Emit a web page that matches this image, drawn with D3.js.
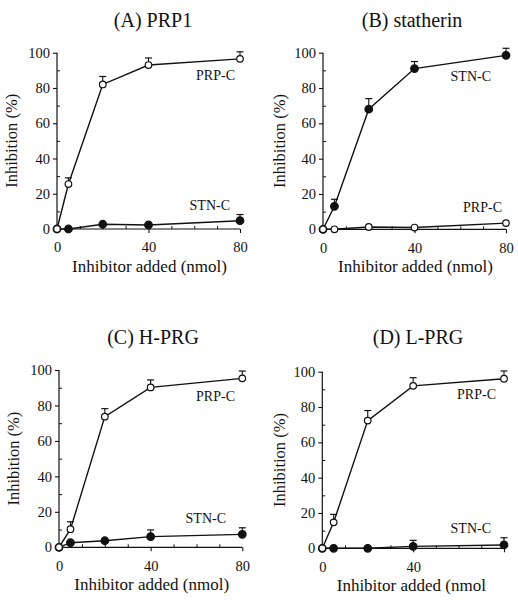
<!DOCTYPE html>
<html>
<head>
<meta charset="utf-8">
<script src="https://cdn.jsdelivr.net/npm/d3@7"></script>
<style>
  html, body { margin: 0; padding: 0; background: #fff; }
  svg { display: block; }
  svg text { font-family: "Liberation Serif", "Times New Roman", "DejaVu Serif", serif !important; fill: #111; }
</style>
</head>
<body>
<svg id="chart" width="518" height="600"></svg>
<script>
// ---------------- DATA ----------------
const xValues = [0, 5, 20, 40, 80];
const panelTitles = ["(A) PRP1", "(B) statherin", "(C) H-PRG", "(D) L-PRG"];
const seriesNames = ["PRP-C", "STN-C"];
const xTickValues = [0, 40, 80];
const xTickLabelsFull = ["0", "40", "80"];
const xTickLabelsD = ["0", "40", ""];
const yTickValues = [0, 20, 40, 60, 80, 100];
const yTickLabels = ["0", "20", "40", "60", "80", "100"];
const xAxisTitle = "Inhibitor added (nmol)";
const xAxisTitleD = "Inhibitor added (nmol";
const yAxisTitle = "Inhibition (%)";

// Panel A: PRP1
const prpA = [0, 25.5, 82, 93, 96.5];
const prpAErr = [0, 3.5, 4.5, 4, 4];
const stnA = [0, 0, 2.7, 2.3, 4.7];
const stnAErr = [0, 0, 0, 0, 3.5];
// Panel B: statherin
const prpB = [0, 0, 1.3, 1, 3.5];
const prpBErr = [0, 0, 0, 0, 0];
const stnB = [0, 13, 68, 91, 98.5];
const stnBErr = [0, 4, 6, 4, 4];
// Panel C: H-PRG
const prpC = [0, 10.2, 73.7, 90.2, 95.3];
const prpCErr = [0, 4.2, 4.5, 4.2, 4.1];
const stnC = [0, 2.6, 3.7, 6, 7.3];
const stnCErr = [0, 0, 0, 3.8, 3.7];
// Panel D: L-PRG
const prpD = [0, 14.7, 72.3, 92, 96];
const prpDErr = [0, 4.5, 5.7, 4.6, 4.4];
const stnD = [0, 0, 0, 1.1, 1.9];
const stnDErr = [0, 0, 0, 3.4, 4.1];

// ---------------- LAYOUT ----------------
const SERIF = '"Liberation Serif", "Times New Roman", "DejaVu Serif", serif';
const panels = [
  { title: panelTitles[0], prp: prpA, prpErr: prpAErr, stn: stnA, stnErr: stnAErr,
    x0: 57, x1: 240, y0: 229, y1: 52.7, titleX: 153, titleY: 27,
    prpLabel: [235, 80], stnLabel: [230, 210], xTitle: xAxisTitle, xLabels: xTickLabelsFull, yTitleX: 17 },
  { title: panelTitles[1], prp: prpB, prpErr: prpBErr, stn: stnB, stnErr: stnBErr,
    x0: 323, x1: 506, y0: 229.3, y1: 52.7, titleX: 412, titleY: 27,
    stnLabel: [491, 81], prpLabel: [502, 212], xTitle: xAxisTitle, xLabels: xTickLabelsFull, yTitleX: 285 },
  { title: panelTitles[2], prp: prpC, prpErr: prpCErr, stn: stnC, stnErr: stnCErr,
    x0: 59, x1: 242.3, y0: 547.3, y1: 370, titleX: 153, titleY: 344,
    prpLabel: [235, 401], stnLabel: [226, 523], xTitle: xAxisTitle, xLabels: xTickLabelsFull, yTitleX: 19 },
  { title: panelTitles[3], prp: prpD, prpErr: prpDErr, stn: stnD, stnErr: stnDErr,
    x0: 322.3, x1: 504, y0: 548.3, y1: 371.7, titleX: 418, titleY: 344,
    prpLabel: [496, 399], stnLabel: [491, 533], xTitle: xAxisTitleD, xLabels: xTickLabelsD, yTitleX: 285, truncated: true }
];

const svg = d3.select("#chart");

panels.forEach(p => {
  const x = d3.scaleLinear().domain([0, 80]).range([p.x0, p.x1]);
  const y = d3.scaleLinear().domain([0, 100]).range([p.y0, p.y1]);
  const g = svg.append("g");

  g.append("text").attr("x", p.titleX).attr("y", p.titleY)
    .attr("text-anchor", "middle").style("font-size", "20px").text(p.title);

  const yAxis = d3.axisLeft(y).tickValues(yTickValues)
    .tickFormat((d, i) => yTickLabels[i]).tickSize(4).tickPadding(3);
  const ya = g.append("g").attr("transform", `translate(${p.x0},0)`).call(yAxis)
    .attr("font-family", SERIF).attr("font-size", null);
  ya.select(".domain").attr("d", `M0,${p.y0}V${p.y1}`).attr("stroke", "#111").attr("stroke-width", 1.2);
  ya.selectAll(".tick line").attr("stroke", "#111").attr("stroke-width", 1.1);
  ya.selectAll(".tick text").style("font-size", "14.5px").attr("fill", "#111");
  const yMinor = d3.axisRight(y).tickValues([10, 30, 50, 70, 90]).tickFormat("").tickSize(3);
  const ym = g.append("g").attr("transform", `translate(${p.x0},0)`).call(yMinor);
  ym.select(".domain").remove();
  ym.selectAll(".tick line").attr("stroke", "#111").attr("stroke-width", 1);

  const xAxis = d3.axisBottom(x).tickValues(xTickValues)
    .tickFormat((d, i) => p.xLabels[i]).tickSize(4).tickPadding(9);
  const xa = g.append("g").attr("transform", `translate(0,${p.y0})`).call(xAxis)
    .attr("font-family", SERIF).attr("font-size", null);
  xa.select(".domain").attr("d", `M${p.x0},0H${p.x1}`).attr("stroke", "#111").attr("stroke-width", 1.2);
  xa.selectAll(".tick line").attr("stroke", "#111").attr("stroke-width", 1.1);
  xa.selectAll(".tick text").style("font-size", "14.5px").attr("fill", "#111");
  const xMinor = d3.axisTop(x).tickValues([10, 20, 30, 50, 60, 70]).tickFormat("").tickSize(3);
  const xm = g.append("g").attr("transform", `translate(0,${p.y0})`).call(xMinor);
  xm.select(".domain").remove();
  xm.selectAll(".tick line").attr("stroke", "#111").attr("stroke-width", 1);

  const xc = (p.x0 + p.x1) / 2 + 1;
  const xt = g.append("text").attr("y", p.y0 + 43).style("font-size", "17px");
  if (p.truncated) {
    xt.text(xAxisTitle).attr("x", 0);
    const w = xt.node().getComputedTextLength();
    xt.text(p.xTitle).attr("x", xc - w / 2).attr("text-anchor", "start");
  } else {
    xt.text(p.xTitle).attr("x", xc).attr("text-anchor", "middle");
  }
  g.append("text")
    .attr("transform", `translate(${p.yTitleX},${(p.y0 + p.y1) / 2}) rotate(-90)`)
    .attr("text-anchor", "middle").style("font-size", "16.5px").text(yAxisTitle);

  const line = d3.line().x((d, i) => x(xValues[i])).y(d => y(d));

  function drawSeries(vals, errs, filled) {
    const sg = g.append("g");
    vals.forEach((v, i) => {
      if (errs[i] > 0) {
        const cx = x(xValues[i]), top = y(v + errs[i]);
        sg.append("line").attr("x1", cx).attr("x2", cx).attr("y1", y(v)).attr("y2", top)
          .attr("stroke", "#111").attr("stroke-width", 1.1);
        sg.append("line").attr("x1", cx - 3.5).attr("x2", cx + 3.5).attr("y1", top).attr("y2", top)
          .attr("stroke", "#111").attr("stroke-width", 1.2);
      }
    });
    sg.append("path").datum(vals).attr("d", line)
      .attr("fill", "none").attr("stroke", "#111").attr("stroke-width", 1.4);
    sg.selectAll("circle").data(vals).join("circle")
      .attr("cx", (d, i) => x(xValues[i])).attr("cy", d => y(d))
      .attr("r", filled ? 3.8 : 3.3)
      .attr("fill", filled ? "#111" : "#fff")
      .attr("stroke", "#111").attr("stroke-width", 1.2);
  }
  drawSeries(p.stn, p.stnErr, true);
  drawSeries(p.prp, p.prpErr, false);

  g.append("text").attr("x", p.prpLabel[0]).attr("y", p.prpLabel[1])
    .attr("text-anchor", "end").style("font-size", "14px").text(seriesNames[0]);
  g.append("text").attr("x", p.stnLabel[0]).attr("y", p.stnLabel[1])
    .attr("text-anchor", "end").style("font-size", "14px").text(seriesNames[1]);
});
</script>
</body>
</html>
